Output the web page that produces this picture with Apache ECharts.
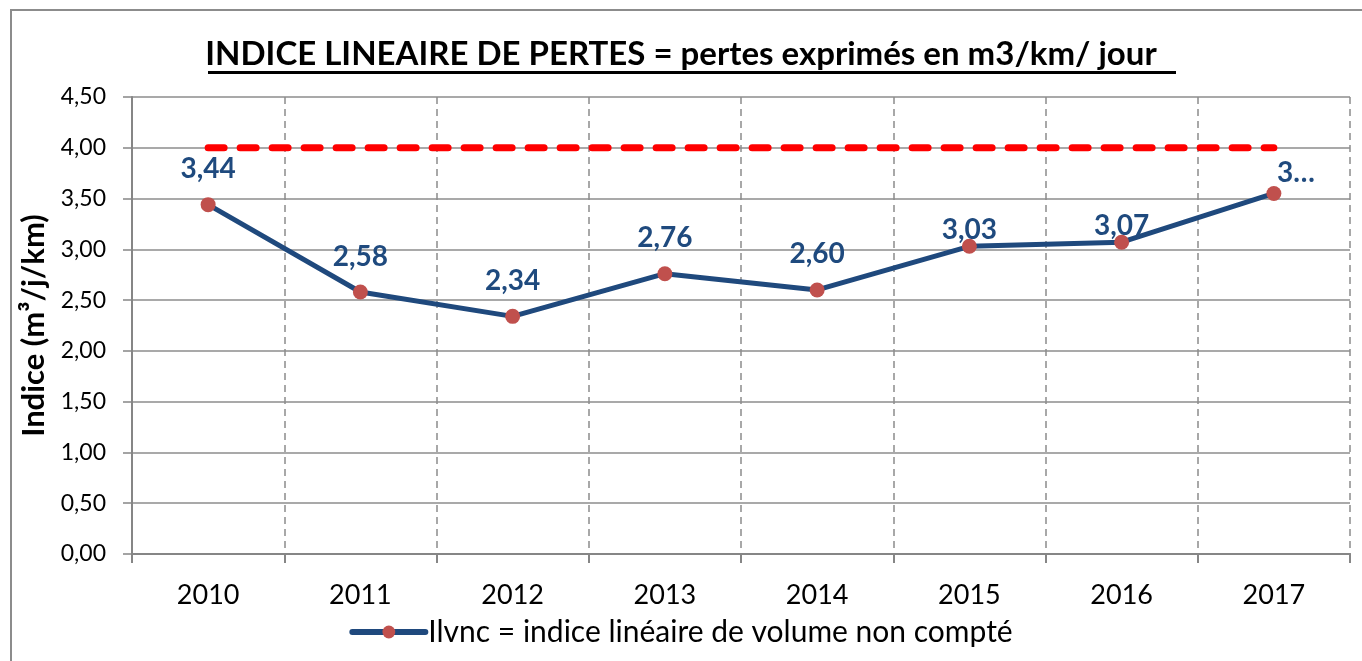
<!DOCTYPE html>
<html>
<head>
<meta charset="utf-8">
<script src="https://cdn.jsdelivr.net/npm/echarts@6/dist/echarts.min.js"></script>
<style>
html, body { margin: 0; padding: 0; background: #fff; }
#container { width: 1362px; height: 661px; }
</style>
</head>
<body>
<div id="container"></div>
<script>
var years = ['2010', '2011', '2012', '2013', '2014', '2015', '2016', '2017'];
var ilvnc = [3.44, 2.58, 2.34, 2.76, 2.60, 3.03, 3.07, 3.55];
var seuil = [4, 4, 4, 4, 4, 4, 4, 4];
var yTicks = [0, 0.5, 1, 1.5, 2, 2.5, 3, 3.5, 4, 4.5];

var dom = document.getElementById('container');
var myChart = echarts.init(dom);

function fr(v) {
    return v.toFixed(2).replace('.', ',');
}

// les 3 derniers points ont leur étiquette plus proche de la courbe
var pointsData = ilvnc.map(function (v, i) {
    var d = { value: v };
    if (i >= 5) {
        d.label = { offset: [0, 19] };
    }
    if (i == ilvnc.length - 1) {
        d.label = { offset: [22, 15], formatter: '3…' };
    }
    return d;
});

var option = {
    backgroundColor: '#fff',
    textStyle: { fontFamily: 'Lato' },
    title: {
        text: 'INDICE LINEAIRE DE PERTES = pertes exprimés en m3/km/ jour',
        left: 'center',
        top: 33,
        textStyle: { fontFamily: 'Lato', fontWeight: 'bold', fontSize: 33, color: '#000' }
    },
    graphic: [
        {
            type: 'rect',
            shape: { x: 11, y: 10, width: 1400, height: 700 },
            style: { fill: 'none', stroke: '#8c8c8c', lineWidth: 2 },
            silent: true
        },
        {
            type: 'rect',
            shape: { x: 208, y: 71, width: 968, height: 3 },
            style: { fill: '#000' },
            silent: true
        }
    ],
    legend: {
        bottom: 9,
        left: 'center',
        itemWidth: 73,
        itemHeight: 16,
        itemGap: 4,
        lineStyle: { width: 6, cap: 'round' },
        textStyle: { color: '#000', fontSize: 30, fontFamily: 'Lato', padding: [0, 0, 0, -2] },
        data: ['Ilvnc = indice linéaire de volume non compté']
    },
    grid: {
        left: 132,
        top: 97,
        width: 1218,
        height: 457
    },
    xAxis: {
        type: 'category',
        data: years,
        boundaryGap: true,
        axisLine: { lineStyle: { color: '#868686', width: 2 } },
        axisTick: { show: true, length: 9, lineStyle: { color: '#868686', width: 2 } },
        axisLabel: { color: '#000', fontSize: 27, margin: 28 },
        splitLine: { show: true, lineStyle: { color: '#8c8c8c', width: 1.5, type: [7, 5] } }
    },
    yAxis: {
        type: 'value',
        min: yTicks[0],
        max: yTicks[yTicks.length - 1],
        interval: 0.5,
        name: 'Indice (m³/j/km)',
        nameLocation: 'middle',
        nameGap: 80,
        nameTextStyle: { color: '#000', fontSize: 31, fontWeight: 'bold', fontFamily: 'Lato' },
        axisLine: { show: true, lineStyle: { color: '#868686', width: 2 } },
        axisTick: { show: true, length: 9, lineStyle: { color: '#868686', width: 1.5 } },
        axisLabel: { color: '#000', fontSize: 23, margin: 26, formatter: fr },
        splitLine: { show: true, lineStyle: { color: '#8c8c8c', width: 1.5 } }
    },
    series: [
        {
            name: 'Seuil',
            type: 'line',
            data: seuil,
            symbol: 'none',
            silent: true,
            lineStyle: { color: '#ff0000', width: 7, type: [16, 16], cap: 'round' },
            z: 3
        },
        {
            name: 'Ilvnc = indice linéaire de volume non compté',
            type: 'line',
            data: pointsData,
            symbol: 'circle',
            symbolSize: 15,
            itemStyle: { color: '#c0504d' },
            lineStyle: { color: '#1f497d', width: 5 },
            label: {
                show: true,
                position: 'top',
                distance: 14,
                color: '#1f4a7e',
                fontSize: 28,
                fontWeight: 'bold',
                fontFamily: 'Lato',
                formatter: function (p) { return fr(p.value); }
            },
            z: 4
        }
    ]
};

if (option && typeof option === 'object') {
    myChart.setOption(option, true);
}
</script>
</body>
</html>
